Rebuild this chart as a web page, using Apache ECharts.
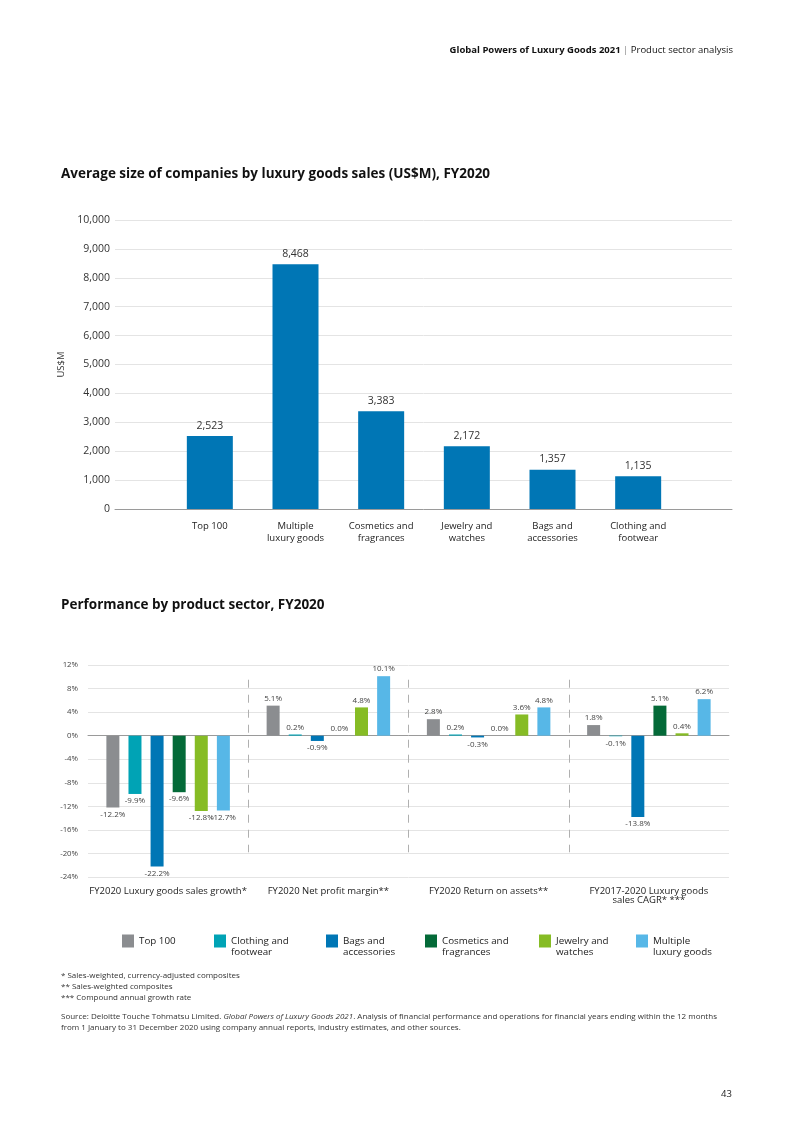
<!DOCTYPE html>
<html>
<head>
<meta charset="utf-8">
<script src="https://cdn.jsdelivr.net/npm/echarts@6/dist/echarts.min.js"></script>
<style>
  html, body { margin: 0; padding: 0; background: #fff; }
  body { width: 793px; height: 1122px; position: relative; font-family: "Open Sans", "Noto Sans", sans-serif; color: #222; }
  #chart { position: absolute; left: 0; top: 0; width: 793px; height: 1122px; }
  .txt { position: absolute; white-space: nowrap; }
  .hdr { top: 43px; right: 60px; font-size: 9.5px; color: #111; }
  .note { left: 61px; font-size: 8px; line-height: 11px; color: #333; }
  .page { top: 1087px; left: 721px; font-size: 9.5px; color: #222; }
</style>
</head>
<body>
<div id="chart"></div>
<div class="txt hdr"><b>Global Powers of Luxury Goods 2021</b> <span style="color:#888">|</span> Product sector analysis</div>
<div class="txt note" style="top:969px">* Sales-weighted, currency-adjusted composites<br>** Sales-weighted composites<br>*** Compound annual growth rate</div>
<div class="txt note" style="top:1010px">Source: Deloitte Touche Tohmatsu Limited. <i>Global Powers of Luxury Goods 2021</i>. Analysis of financial performance and operations for financial years ending within the 12 months<br>from 1 January to 31 December 2020 using company annual reports, industry estimates, and other sources.</div>
<div class="txt page">43</div>
<script>
// ---------- Chart 1 data ----------
const sizeCategories = ['Top 100', 'Multiple\nluxury goods', 'Cosmetics and\nfragrances', 'Jewelry and\nwatches', 'Bags and\naccessories', 'Clothing and\nfootwear'];
const sizeValues = [2523, 8468, 3383, 2172, 1357, 1135];

// ---------- Chart 2 data ----------
const perfCategories = ['FY2020 Luxury goods sales growth*', 'FY2020 Net profit margin**', 'FY2020 Return on assets**', 'FY2017-2020 Luxury goods\nsales CAGR* ***'];
const seriesNames = ['Top 100', 'Clothing and\nfootwear', 'Bags and\naccessories', 'Cosmetics and\nfragrances', 'Jewelry and\nwatches', 'Multiple\nluxury goods'];
const top100 = [-12.2, 5.1, 2.8, 1.8];
const clothing = [-9.9, 0.2, 0.2, -0.1];
const bags = [-22.2, -0.9, -0.3, -13.8];
const cosmetics = [-9.6, 0.0, 0.0, 5.1];
const jewelry = [-12.8, 4.8, 3.6, 0.4];
const multiple = [-12.7, 10.1, 4.8, 6.2];
const perfTicks = [-24, -20, -16, -12, -8, -4, 0, 4, 8, 12];
const separators = [1, 2, 3];

const perfValues = [top100, clothing, bags, cosmetics, jewelry, multiple];
const colors = ['#8b8d90', '#00a3b5', '#0076b5', '#046a38', '#86bc25', '#57b7e7'];
const legendLeft = [122, 214, 326, 425, 539, 636];

const chart = echarts.init(document.getElementById('chart'), null, { renderer: 'canvas' });
const FONT = '"Open Sans", "Noto Sans", sans-serif';

const perfSeries = perfValues.map((vals, i) => ({
  name: seriesNames[i],
  type: 'bar',
  xAxisIndex: 2,
  yAxisIndex: 2,
  barWidth: 13,
  barGap: '70%',
  itemStyle: { color: colors[i] },
  label: {
    show: true, fontSize: 8, color: '#444', fontFamily: FONT, distance: 3,
    formatter: p => p.value.toFixed(1) + '%'
  },
  data: vals.map(v => ({ value: v, label: { position: v < 0 ? 'bottom' : 'top' } }))
}));

const LH = 11.3;
const option = {
  animation: false,
  textStyle: { fontFamily: FONT },
  title: [
    { text: 'Average size of companies by luxury goods sales (US$M), FY2020', left: 61, top: 167, padding: 0,
      textStyle: { fontSize: 13.5, fontWeight: 'bold', color: '#111', fontFamily: FONT } },
    { text: 'Performance by product sector, FY2020', left: 61, top: 598, padding: 0,
      textStyle: { fontSize: 13.5, fontWeight: 'bold', color: '#111', fontFamily: FONT } }
  ],
  legend: seriesNames.map((n, i) => {
    const two = n.indexOf('\n') >= 0;
    return {
      data: [n], left: legendLeft[i], top: two ? 941 - LH * 1.5 : 941 - 6.5,
      itemWidth: 12, itemHeight: 13, itemGap: 0,
      icon: 'rect', selectedMode: false, padding: 0,
      formatter: name => (two ? '\n' : '') + name,
      textStyle: { fontSize: 9.8, lineHeight: LH, color: '#222', fontFamily: FONT }
    };
  }),
  grid: [
    { left: 115, right: 61, top: 220, height: 289 },
    { left: 167, right: 112, top: 220, height: 289 },
    { left: 88, right: 64, top: 665, height: 212 }
  ],
  xAxis: [
    { gridIndex: 0, type: 'value', min: 0, max: 1, axisLabel: { show: false }, axisTick: { show: false }, splitLine: { show: false },
      axisLine: { show: true, lineStyle: { color: '#9a9a9a', width: 1 } } },
    { gridIndex: 1, type: 'category', data: sizeCategories, axisLine: { show: false }, axisTick: { show: false },
      axisLabel: { fontSize: 9.5, lineHeight: 12, color: '#222', margin: 11, fontFamily: FONT } },
    { gridIndex: 2, type: 'category', data: perfCategories, position: 'bottom', axisLine: { show: false, onZero: false }, axisTick: { show: false },
      axisLabel: { fontSize: 9.5, lineHeight: 9, color: '#222', margin: 10, fontFamily: FONT, interval: 0 } },
    { gridIndex: 2, type: 'value', min: 0, max: 4, position: 'bottom', axisLabel: { show: false }, axisTick: { show: false }, splitLine: { show: false },
      axisLine: { show: true, onZero: true, lineStyle: { color: '#9a9a9a', width: 1 } } }
  ],
  yAxis: [
    { gridIndex: 0, type: 'value', min: 0, max: 10000, interval: 1000,
      name: 'US$M', nameLocation: 'middle', nameRotate: 90, nameGap: 46,
      nameTextStyle: { fontSize: 9.5, color: '#333', fontFamily: FONT },
      axisLine: { show: false }, axisTick: { show: false },
      axisLabel: { fontSize: 10.5, color: '#333', margin: 5, fontFamily: FONT, formatter: v => v.toLocaleString('en-US') },
      splitLine: { lineStyle: { color: '#e4e4e4' } } },
    { gridIndex: 1, type: 'value', min: 0, max: 10000, show: false },
    { gridIndex: 2, type: 'value', min: perfTicks[0], max: perfTicks[perfTicks.length - 1], interval: 4,
      axisLine: { show: false }, axisTick: { show: false },
      axisLabel: { fontSize: 7.8, color: '#444', margin: 10, fontFamily: FONT, formatter: '{value}%' },
      splitLine: { lineStyle: { color: '#e4e4e4' } } }
  ],
  series: [
    { name: 'size', type: 'bar', xAxisIndex: 1, yAxisIndex: 1, barWidth: 46, data: sizeValues,
      itemStyle: { color: '#0076b5' },
      label: { show: true, position: 'top', distance: 5, fontSize: 10.5, color: '#333', fontFamily: FONT,
        formatter: p => p.value.toLocaleString('en-US') } },
    ...perfSeries,
    { name: 'sep', type: 'scatter', xAxisIndex: 3, yAxisIndex: 2, data: [], silent: true,
      markLine: { silent: true, symbol: 'none', label: { show: false },
        lineStyle: { color: '#b0b0b0', type: [8, 7], width: 1 },
        data: separators.map(x => [{ coord: [x, 9.5] }, { coord: [x, -19.8] }]) } }
  ]
};
chart.setOption(option);
</script>
</body>
</html>
